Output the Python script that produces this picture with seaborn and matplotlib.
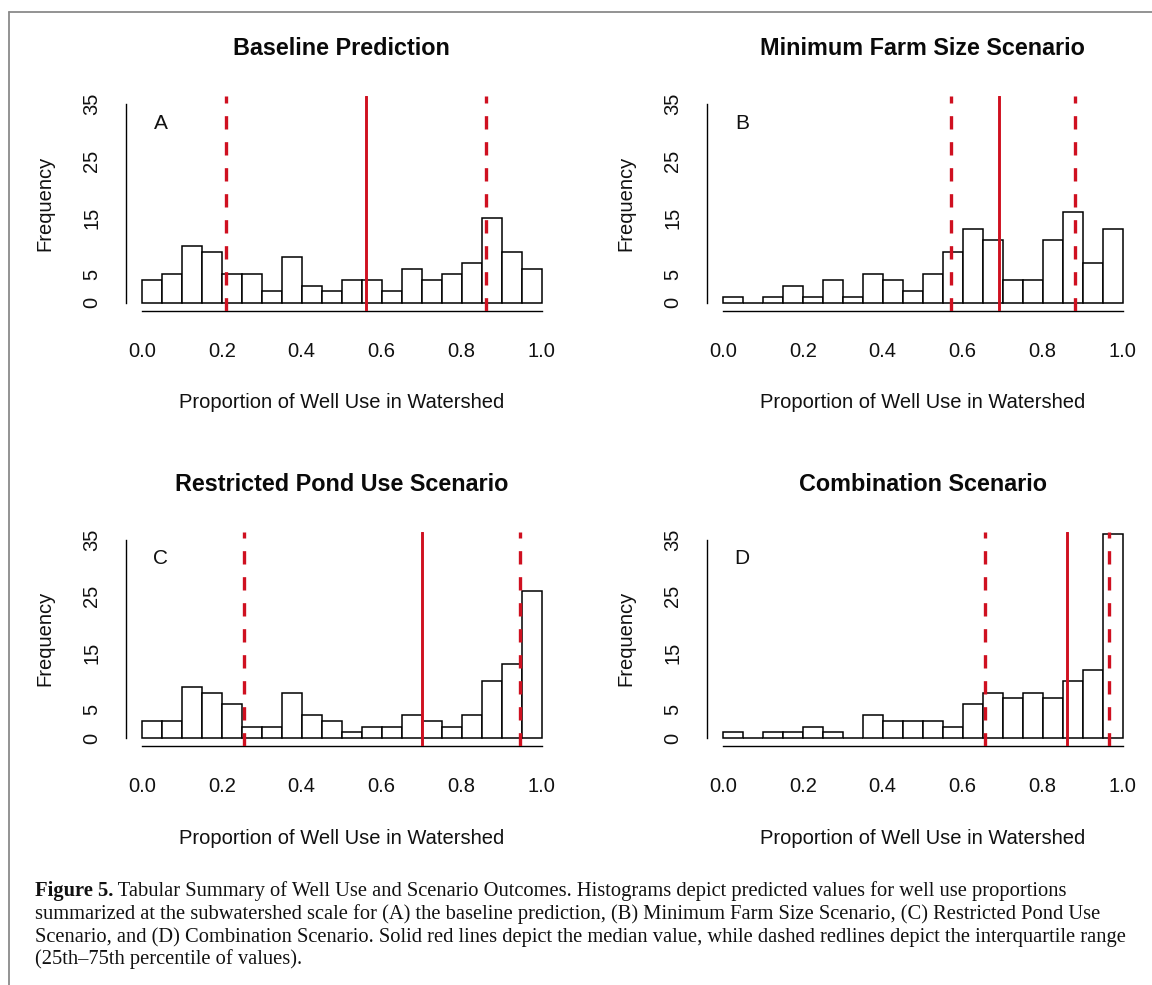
import numpy as np
import pandas as pd
import matplotlib
matplotlib.use("Agg")
import matplotlib.pyplot as plt
from matplotlib.lines import Line2D
import seaborn as sns

# ---------------- data ----------------
bin_edges = [round(0.05 * i, 2) for i in range(21)]
titles = ["Baseline Prediction", "Minimum Farm Size Scenario",
          "Restricted Pond Use Scenario", "Combination Scenario"]
letters = ["A", "B", "C", "D"]
counts_A = [4, 5, 10, 9, 5, 5, 2, 8, 3, 2, 4, 4, 2, 6, 4, 5, 7, 15, 9, 6]
counts_B = [1, 0, 1, 3, 1, 4, 1, 5, 4, 2, 5, 9, 13, 11, 4, 4, 11, 16, 7, 13]
counts_C = [3, 3, 9, 8, 6, 2, 2, 8, 4, 3, 1, 2, 2, 4, 3, 2, 4, 10, 13, 26]
counts_D = [1, 0, 1, 1, 2, 1, 0, 4, 3, 3, 3, 2, 6, 8, 7, 8, 7, 10, 12, 36]
medians = [0.56, 0.69, 0.70, 0.86]
q25 = [0.21, 0.57, 0.255, 0.655]
q75 = [0.86, 0.88, 0.945, 0.965]
x_ticks = [0.0, 0.2, 0.4, 0.6, 0.8, 1.0]
x_ticklabels = ["0.0", "0.2", "0.4", "0.6", "0.8", "1.0"]
y_ticks = [0, 5, 10, 15, 20, 25, 30, 35]
y_ticklabels = ["0", "5", "", "15", "", "25", "", "35"]
xlabel = "Proportion of Well Use in Watershed"
ylabel = "Frequency"
caption_bold = "Figure 5."
caption_lines = [
    " Tabular Summary of Well Use and Scenario Outcomes. Histograms depict predicted values for well use proportions",
    "summarized at the subwatershed scale for (A) the baseline prediction, (B) Minimum Farm Size Scenario, (C) Restricted Pond Use",
    "Scenario, and (D) Combination Scenario. Solid red lines depict the median value, while dashed redlines depict the interquartile range",
    "(25th\u201375th percentile of values).",
]
all_counts = [counts_A, counts_B, counts_C, counts_D]

# ---------------- style ----------------
sns.set_style("white")
plt.rcParams["font.family"] = ["Liberation Sans", "DejaVu Sans"]

W, H = 1152, 985
fig = plt.figure(figsize=(W / 100, H / 100), dpi=100)

col_left = [125.7, 706.7]
ax_w = 432.0
row_bottom = [310.6, 745.9]
ax_h = 214.3
RED = "#cf1020"
TXT = "#111111"

for i in range(4):
    r, c = divmod(i, 2)
    ax = fig.add_axes([col_left[c] / W, 1 - row_bottom[r] / H, ax_w / W, ax_h / H])
    centers = [(bin_edges[k] + bin_edges[k + 1]) / 2 for k in range(20)]
    df = pd.DataFrame({"x": centers, "w": all_counts[i]})
    sns.histplot(data=df, x="x", weights="w", bins=bin_edges, stat="count",
                 color="white", edgecolor="black", linewidth=1.1, alpha=1,
                 ax=ax, zorder=2)
    ax.axvline(medians[i], color=RED, lw=2.1, zorder=3)
    for q in (q25[i], q75[i]):
        ax.axvline(q, color=RED, lw=2.4, linestyle=(0, (4, 3.8)), zorder=3)

    ax.set_xlim(-0.04, 1.04)
    ax.set_ylim(-1.4, 36.4)
    for s in ("top", "right"):
        ax.spines[s].set_visible(False)
    ax.spines["left"].set_bounds(0, 35)
    ax.spines["bottom"].set_bounds(0, 1)
    for s in ("left", "bottom"):
        ax.spines[s].set_color("black")
        ax.spines[s].set_linewidth(1.0)
    ax.set_xticks(x_ticks)
    ax.set_xticklabels(x_ticklabels)
    ax.set_yticks(y_ticks)
    ax.set_yticklabels(y_ticklabels, rotation=90, va="center")
    ax.tick_params(axis="both", direction="out", length=9.5, width=1.0,
                   color="black", labelsize=14.5, labelcolor=TXT)
    ax.tick_params(axis="x", pad=13)
    ax.tick_params(axis="y", pad=8)
    ax.grid(False)

    ax.set_xlabel(xlabel, fontsize=14.5, color=TXT)
    ax.xaxis.set_label_coords(0.5, -0.431)
    ax.xaxis.label.set_va("center")
    ax.set_ylabel(ylabel, fontsize=14.5, color=TXT)
    ax.yaxis.set_label_coords(-0.187, 0.5)
    ax.yaxis.label.set_va("center")
    ax.yaxis.label.set_ha("center")

    ax.set_title(titles[i], fontsize=16.8, fontweight="bold", y=1.222, va="center",
                 pad=0, color="#0a0a0a")
    ax.text(0.048, 31.6, letters[i], fontsize=15, ha="center", va="center",
            zorder=4, color=TXT)

# border lines
fig.add_artist(Line2D([8.5 / W, 8.5 / W], [1 - 12 / H, 0], transform=fig.transFigure,
                      color="#8a8a8a", lw=1.3))
fig.add_artist(Line2D([8.5 / W, 1.0], [1 - 12 / H, 1 - 12 / H], transform=fig.transFigure,
                      color="#8a8a8a", lw=1.3))

# caption
cap_x = 35 / W
line_y = [891, 914, 937, 959]
serif = ["Liberation Serif", "DejaVu Serif"]
cap_fs = 14.8
tb = fig.text(cap_x, 1 - line_y[0] / H, caption_bold, fontsize=cap_fs, fontweight="bold",
              family=serif, ha="left", va="center", color=TXT)
renderer = fig.canvas.get_renderer()
bb = tb.get_window_extent(renderer=renderer)
fig.text(bb.x1 / W, 1 - line_y[0] / H, caption_lines[0], fontsize=cap_fs, family=serif,
         ha="left", va="center", color=TXT)
for k in range(1, 4):
    fig.text(cap_x, 1 - line_y[k] / H, caption_lines[k], fontsize=cap_fs, family=serif,
             ha="left", va="center", color=TXT)

fig.savefig("out.png", dpi=100, facecolor="white")
